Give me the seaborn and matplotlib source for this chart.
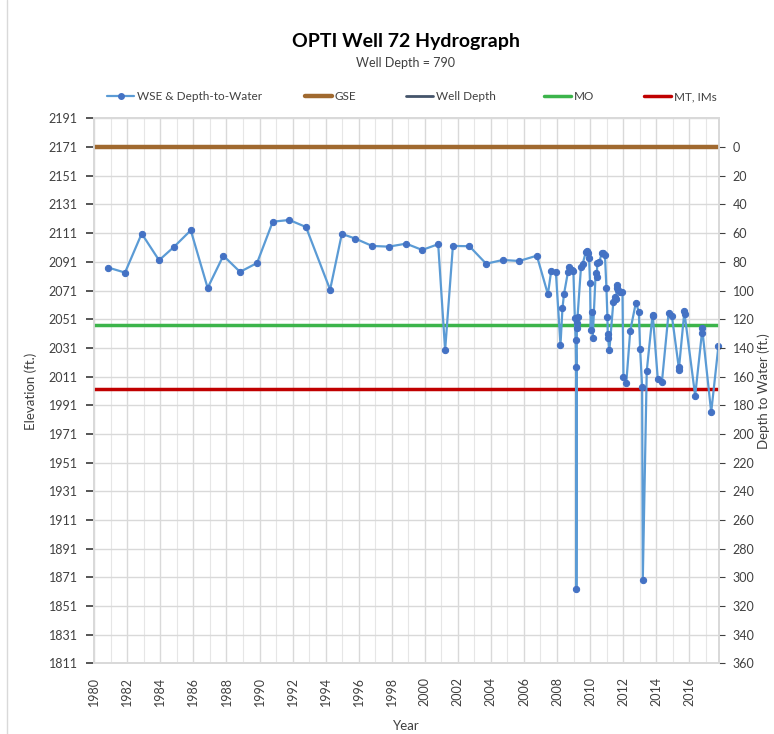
import numpy as np
import pandas as pd
import matplotlib
matplotlib.use("Agg")
import matplotlib.pyplot as plt
import seaborn as sns
from matplotlib.lines import Line2D
from matplotlib.ticker import MultipleLocator

years = [
    1980.85, 1981.86, 1982.87, 1983.92, 1984.82, 1985.84, 1986.86, 1987.81,
    1988.82, 1989.85, 1990.80, 1991.80, 1992.81, 1994.27, 1994.98, 1995.80,
    1996.81, 1997.82, 1998.87, 1999.84, 2000.81, 2001.23, 2001.70, 2002.70,
    2003.71, 2004.72, 2005.71, 2006.78, 2007.45, 2007.65, 2007.93, 2008.21,
    2008.33, 2008.42, 2008.66, 2008.75, 2008.90, 2008.99, 2009.08, 2009.13,
    2009.16, 2009.17, 2009.20, 2009.22, 2009.24, 2009.45, 2009.55, 2009.74,
    2009.80, 2009.85, 2009.94, 2010.00, 2010.04, 2010.09, 2010.16, 2010.34,
    2010.40, 2010.44, 2010.56, 2010.71, 2010.80, 2010.90, 2010.99, 2011.05,
    2011.07, 2011.09, 2011.17, 2011.41, 2011.51, 2011.57, 2011.62, 2011.65,
    2011.71, 2011.81, 2011.96, 2012.02, 2012.19, 2012.43, 2012.77, 2012.95,
    2013.03, 2013.15, 2013.19, 2013.43, 2013.78, 2013.80, 2014.10, 2014.35,
    2014.75, 2014.95, 2015.36, 2015.37, 2015.71, 2015.72, 2016.36, 2016.77,
    2016.78, 2017.33, 2017.77,
]
# water surface elevation (ft)
wse = [
    2087.0, 2083.5, 2110.7, 2092.1, 2101.4, 2113.0, 2072.8, 2095.3,
    2084.0, 2090.2, 2119.0, 2120.2, 2115.3, 2071.6, 2110.5, 2107.2,
    2102.1, 2101.6, 2103.7, 2099.3, 2103.3, 2029.4, 2102.1, 2101.9,
    2089.7, 2092.3, 2091.6, 2095.3, 2068.4, 2084.9, 2084.0, 2033.0,
    2058.6, 2068.4, 2083.7, 2087.7, 2085.4, 2084.4, 2051.7, 2036.5,
    2017.9, 1863.1, 2044.7, 2048.2, 2052.4, 2087.2, 2089.5, 2097.7,
    2098.5, 2097.5, 2093.5, 2076.0, 2043.5, 2056.3, 2037.7, 2083.5,
    2080.7, 2090.0, 2091.1, 2097.0, 2097.5, 2096.0, 2072.6, 2052.8,
    2041.0, 2038.0, 2029.6, 2063.2, 2066.7, 2064.9, 2072.6, 2074.9,
    2071.4, 2070.2, 2070.2, 2011.0, 2006.3, 2042.8, 2062.5, 2056.3,
    2030.0, 2004.0, 1869.2, 2014.9, 2054.0, 2053.0, 2009.1, 2007.5,
    2055.2, 2053.3, 2018.0, 2015.6, 2056.8, 2054.6, 1997.7, 2041.6,
    2044.9, 1986.1, 2032.6,
]

gse = 2171          # ground surface elevation
well_depth = 790
mo = 2047           # measurable objective
mt = 2002           # minimum threshold / interim milestones

df = pd.DataFrame({"Year": years, "WSE": wse})

sns.set_theme(style="whitegrid")
plt.rcParams["font.family"] = ["Lato", "DejaVu Sans"]

c_wse = "#5B9BD5"
c_mark = "#4472C4"
c_gse = "#A0692F"
c_wd = "#44546A"
c_mo = "#3CB44B"
c_mt = "#C00000"
txt = "#404040"

fig = plt.figure(figsize=(7.74, 7.34), dpi=100)
ax = fig.add_axes([0.1218, 0.0963, 0.8071, 0.7423])

ax.axhline(gse, color=c_gse, lw=3.2, zorder=3)
ax.axhline(gse - well_depth, color=c_wd, lw=2, zorder=3)
ax.axhline(mo, color=c_mo, lw=2.5, zorder=3)
ax.axhline(mt, color=c_mt, lw=2.5, zorder=3)

sns.lineplot(data=df, x="Year", y="WSE", ax=ax, sort=False, estimator=None,
             color=c_wse, lw=1.6, marker="o", markersize=4.5,
             markerfacecolor=c_mark, markeredgecolor=c_mark, zorder=4,
             clip_on=False)

ax.set_xlim(1980, 2017.8)
ax.set_ylim(1811, 2191)
ax.set_yticks(np.arange(1811, 2192, 20))
ax.set_xticks(np.arange(1980, 2017, 2))
ax.xaxis.set_minor_locator(MultipleLocator(1))
ax.tick_params(axis="x", rotation=90, labelsize=9, colors=txt, pad=4)
ax.tick_params(axis="y", labelsize=9, colors=txt, pad=6)
ax.grid(which="major", color="#D9D9D9", lw=1)
ax.grid(which="minor", axis="x", color="#E6E6E6", lw=0.8)
for s in ax.spines.values():
    s.set_color("#D9D9D9")
ax.set_xlabel("Year", fontsize=9.5, color=txt, labelpad=10)
ax.set_ylabel("Elevation (ft.)", fontsize=9.5, color=txt, labelpad=8)

# depth to water on the right
ax2 = ax.twinx()
ax2.set_ylim(gse - 1811, gse - 2191)
ax2.set_yticks(np.arange(0, 361, 20))
ax2.grid(False)
ax2.tick_params(axis="y", labelsize=9, colors=txt, length=4, width=0.8, pad=6)
for t in ax2.get_yticklines():
    t.set_color("#BFBFBF")
for s in ax2.spines.values():
    s.set_color("#D9D9D9")
ax2.set_ylabel("Depth to Water (ft.)", fontsize=9.5, color=txt)
ax2.yaxis.set_label_coords(1.061, 0.5)

fig.text(0.5245, 0.943, "OPTI Well 72 Hydrograph", ha="center", va="center",
         fontsize=14, fontweight="bold", color="black")
fig.text(0.5245, 0.914, f"Well Depth = {well_depth}", ha="center", va="center",
         fontsize=9, color=txt)

handles = [
    Line2D([], [], color=c_wse, lw=1.6, marker="o", markersize=4,
           markerfacecolor=c_mark, markeredgecolor=c_mark),
    Line2D([], [], color=c_gse, lw=3.2),
    Line2D([], [], color=c_wd, lw=2),
    Line2D([], [], color=c_mo, lw=2.5),
    Line2D([], [], color=c_mt, lw=2.5),
]
labels = ["WSE & Depth-to-Water", "GSE", "Well Depth", "MO", "MT, IMs"]
# one legend per entry so the spacing follows the original
starts = [107, 305, 406, 544, 644]
for h, lab, x0 in zip(handles, labels, starts):
    fig.legend([h], [lab], loc="center left", frameon=False,
               bbox_to_anchor=((x0 - 5) / 774, 1 - 97 / 734), fontsize=8.5,
               handlelength=2.35, handletextpad=0.2, labelcolor=txt,
               borderaxespad=0, borderpad=0.4)

# chart border on the left edge
fig.add_artist(Line2D([0.009, 0.009], [0.0, 1.0], color="#D9D9D9", lw=1))

plt.savefig("out.png", dpi=100)
